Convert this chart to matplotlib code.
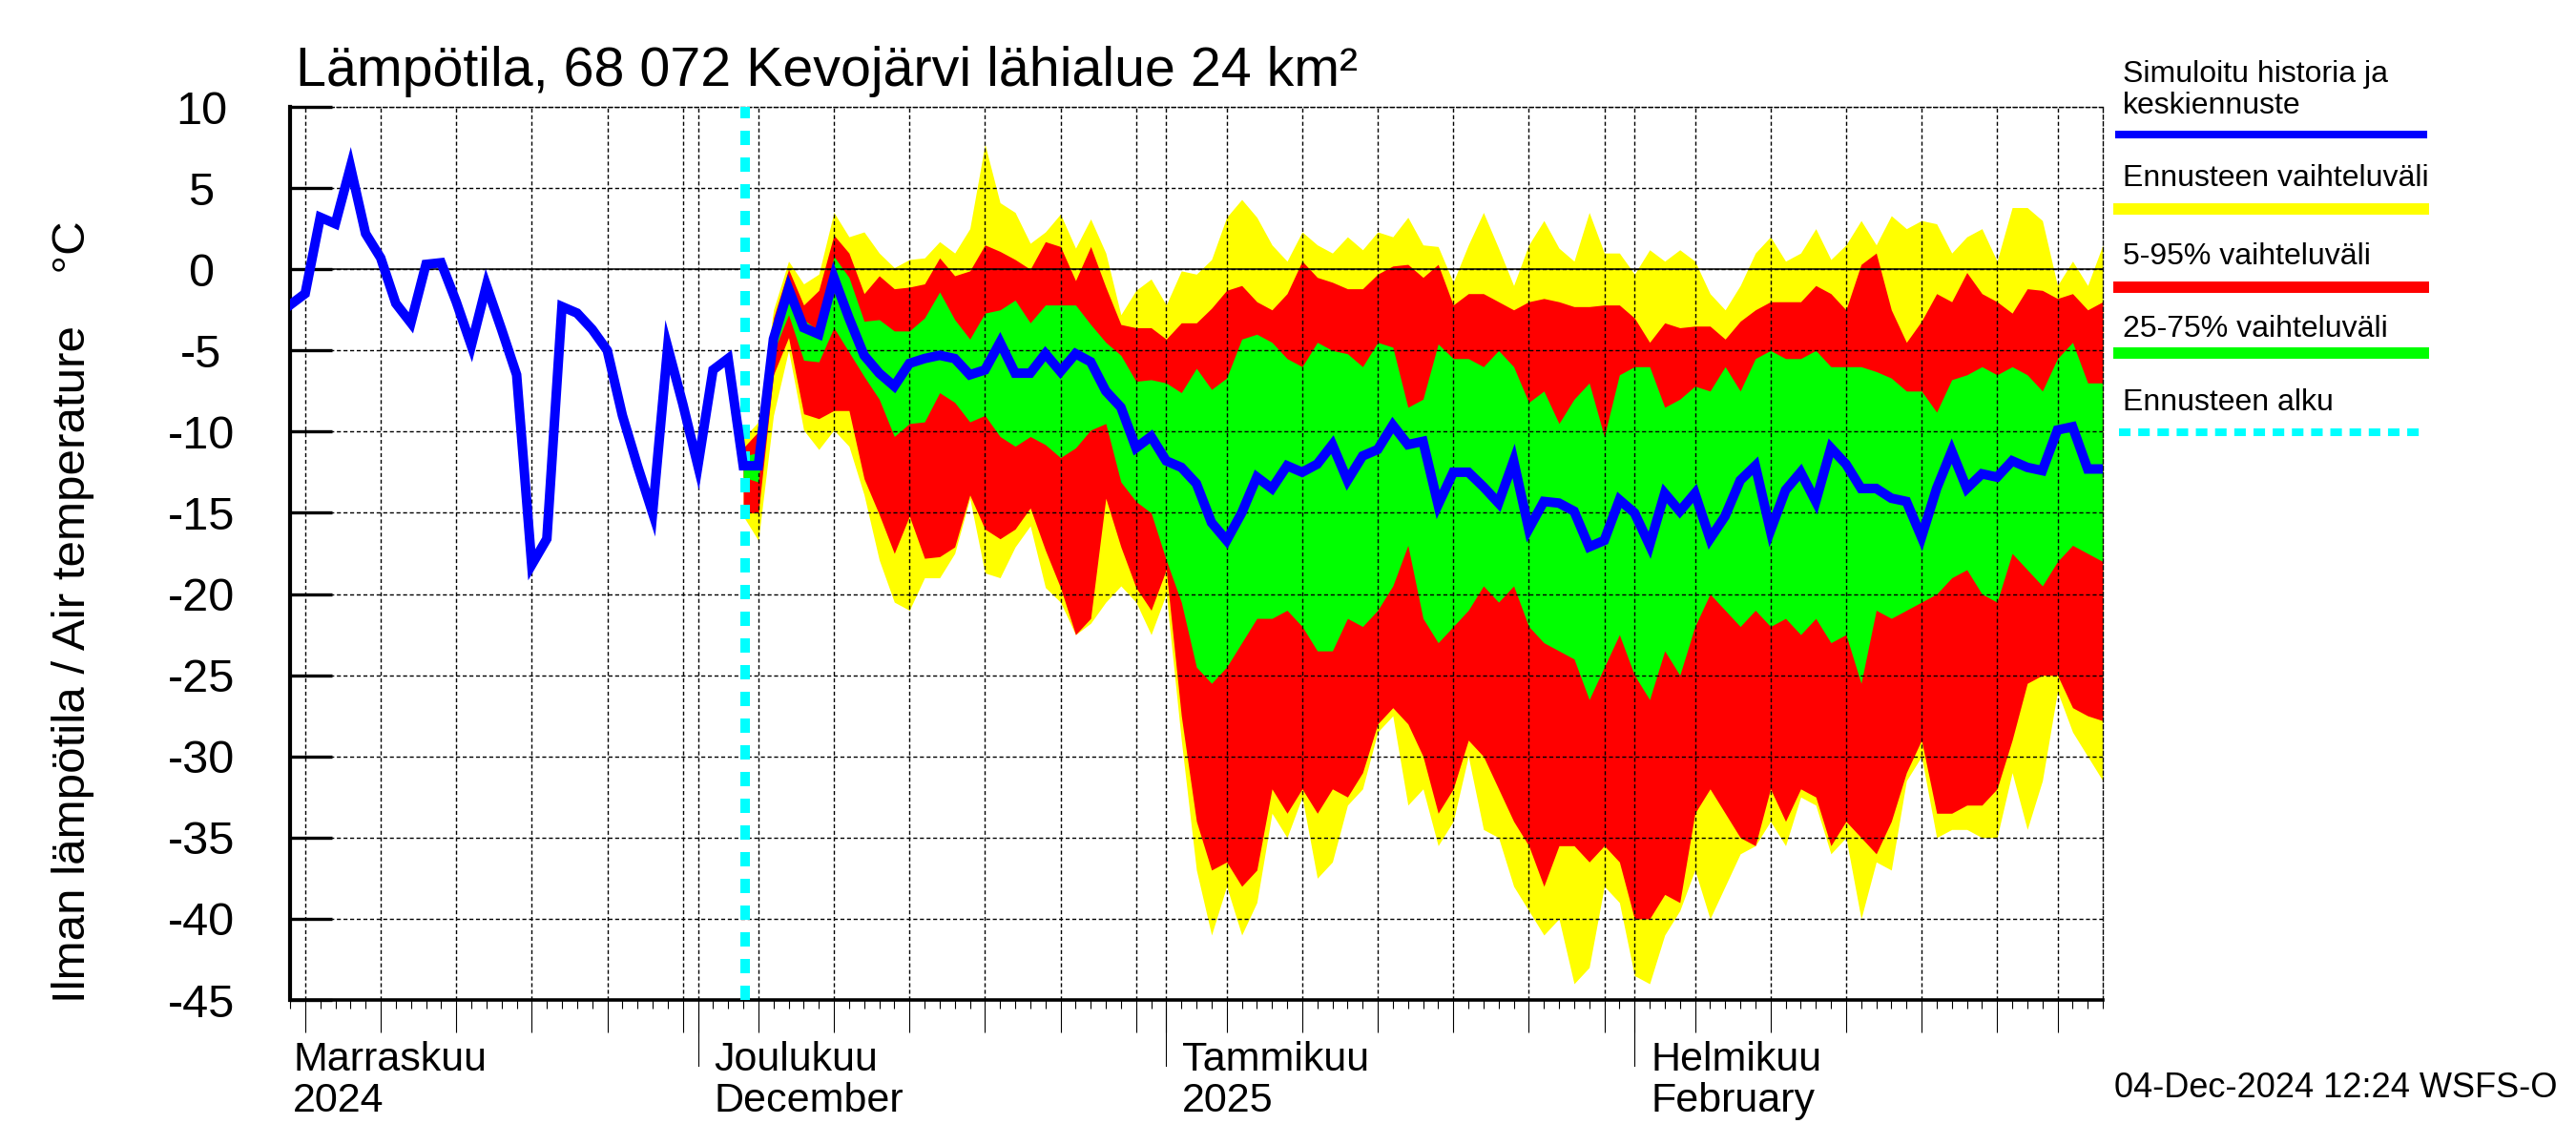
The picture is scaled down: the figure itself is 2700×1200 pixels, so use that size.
import numpy as np
import pandas as pd
import matplotlib
matplotlib.use('Agg')
import matplotlib.pyplot as plt
import matplotlib.dates as mdates
from matplotlib.lines import Line2D

plt.rcParams['font.family'] = ['Liberation Sans', 'DejaVu Sans']
plt.rcParams['axes.unicode_minus'] = False

# --- DATA ---
# simulated history, daily from 2024-11-04
hist_start = "2024-11-04"
hist = [-2.2, -1.5, 3.2, 2.8, 6.3, 2.2, 0.7, -2.1, -3.3, 0.3,
        0.4, -2.0, -4.7, -1.0, -3.7, -6.5, -18.2, -16.6, -2.3, -2.7,
        -3.7, -5.0, -9.0, -12.1, -15.0, -4.8, -8.3, -12.1, -6.2, -5.5]

# forecast, daily from 2024-12-04
fc_start = "2024-12-04"
fc_max = [-10.4, -9.4, -2.5, 0.5, -0.9, -0.3, 3.5, 2.0, 2.3, 1.0,
          0.1, 0.6, 0.7, 1.7, 1.0, 2.5, 7.7, 4.1, 3.5, 1.6,
          2.3, 3.4, 1.3, 3.1, 1.0, -2.8, -1.3, -0.6, -2.2, -0.1,
          -0.3, 0.6, 3.2, 4.3, 3.2, 1.5, 0.5, 2.3, 1.5, 1.0,
          2.0, 1.2, 2.3, 2.0, 3.2, 1.5, 1.4, -0.8, 1.5, 3.5,
          1.3, -1.0, 1.5, 3.0, 1.3, 0.5, 3.5, 1.0, 1.0, -0.3,
          1.2, 0.5, 1.2, 0.5, -1.5, -2.5, -1.0, 1.0, 2.0, 0.5,
          1.0, 2.5, 0.6, 1.5, 3.0, 1.5, 3.3, 2.5, 3.0, 2.8,
          1.0, 2.0, 2.5, 0.5, 3.8, 3.8, 3.0, -1.0, 0.5, -1.0, 1.5]
fc_p95 = [-11.0, -10.0, -3.0, 0.0, -2.2, -1.3, 2.1, 1.0, -1.5, -0.4,
          -1.2, -1.1, -0.9, 0.7, -0.4, -0.1, 1.5, 1.1, 0.6, 0.0,
          1.7, 1.4, -0.7, 1.4, -1.1, -3.4, -3.6, -3.6, -4.3, -3.3,
          -3.3, -2.4, -1.3, -1.0, -2.0, -2.5, -1.5, 0.5, -0.5, -0.8,
          -1.2, -1.2, -0.3, 0.2, 0.3, -0.5, 0.3, -2.2, -1.5, -1.5,
          -2.0, -2.5, -2.0, -1.8, -2.0, -2.3, -2.3, -2.2, -2.2, -3.0,
          -4.5, -3.3, -3.6, -3.5, -3.5, -4.3, -3.2, -2.5, -2.0, -2.0,
          -2.0, -1.0, -1.5, -2.5, 0.3, 1.0, -2.5, -4.5, -3.2, -1.5,
          -2.0, -0.2, -1.5, -2.0, -2.7, -1.2, -1.3, -1.8, -1.5, -2.5, -2.0]
fc_p75 = [-11.5, -11.3, -3.6, -0.5, -3.1, -3.8, 0.8, -0.5, -3.2, -3.1,
          -3.8, -3.8, -3.0, -1.4, -3.1, -4.3, -2.7, -2.5, -1.9, -3.3,
          -2.2, -2.2, -2.2, -3.4, -4.5, -5.3, -6.9, -6.8, -7.0, -7.6,
          -6.1, -7.4, -6.7, -4.3, -4.0, -4.5, -5.5, -6.0, -4.5, -5.0,
          -5.2, -6.0, -4.5, -4.8, -8.5, -8.0, -4.6, -5.5, -5.5, -6.0,
          -5.0, -6.0, -8.2, -7.5, -9.5, -8.0, -7.0, -10.3, -6.5, -6.0,
          -6.0, -8.5, -8.0, -7.2, -7.5, -6.0, -7.5, -5.5, -5.0, -5.5,
          -5.5, -5.0, -6.0, -6.0, -6.0, -6.3, -6.7, -7.5, -7.5, -8.8,
          -6.8, -6.5, -6.0, -6.5, -6.0, -6.5, -7.5, -5.5, -4.5, -7.0, -7.0]
fc_median = [-12.1, -12.1, -4.3, -1.2, -3.6, -4.0, -0.5, -3.0, -5.3, -6.4,
             -7.2, -5.8, -5.5, -5.3, -5.5, -6.5, -6.2, -4.5, -6.4, -6.4,
             -5.2, -6.3, -5.2, -5.7, -7.5, -8.5, -11.0, -10.3, -11.8, -12.2,
             -13.2, -15.6, -16.7, -15.0, -12.8, -13.5, -12.1, -12.5, -12.0, -10.8,
             -13.0, -11.5, -11.1, -9.6, -10.8, -10.6, -14.5, -12.5, -12.5, -13.4,
             -14.4, -11.8, -16.0, -14.3, -14.4, -14.9, -17.1, -16.7, -14.2, -15.0,
             -17.0, -13.8, -14.9, -13.8, -16.6, -15.2, -13.0, -12.1, -16.1, -13.6,
             -12.5, -14.3, -11.0, -12.0, -13.5, -13.5, -14.1, -14.3, -16.5, -13.5,
             -11.2, -13.5, -12.6, -12.8, -11.8, -12.2, -12.4, -9.9, -9.7, -12.3, -12.3]
fc_p25 = [-12.8, -13.1, -5.1, -2.8, -5.6, -5.7, -3.6, -5.1, -6.6, -8.0,
          -10.3, -9.5, -9.4, -7.6, -8.2, -9.4, -9.0, -10.3, -10.9, -10.3,
          -10.8, -11.6, -11.0, -9.9, -9.5, -13.1, -14.3, -15.0, -17.9, -20.5,
          -24.5, -25.5, -24.5, -23.0, -21.5, -21.5, -21.0, -22.0, -23.5, -23.5,
          -21.5, -22.0, -21.0, -19.5, -17.0, -21.5, -23.0, -22.0, -21.0, -19.5,
          -20.5, -19.5, -22.0, -23.0, -23.5, -24.0, -26.5, -24.5, -22.5, -25.0,
          -26.5, -23.5, -25.0, -22.0, -20.0, -21.0, -22.0, -21.0, -22.0, -21.5,
          -22.5, -21.5, -23.0, -22.5, -25.5, -21.0, -21.5, -21.0, -20.5, -20.0,
          -19.0, -18.5, -20.0, -20.5, -17.5, -18.5, -19.5, -18.0, -17.0, -17.5, -18.0]
fc_p05 = [-15.0, -15.0, -6.5, -4.2, -8.9, -9.2, -8.7, -8.7, -12.9, -15.1,
          -17.5, -15.2, -17.8, -17.7, -17.1, -13.9, -16.0, -16.6, -16.0, -14.7,
          -17.3, -19.6, -22.5, -21.5, -14.1, -17.1, -19.6, -21.0, -18.5, -27.5,
          -34.0, -37.0, -36.5, -38.0, -37.0, -32.0, -33.5, -32.0, -33.5, -32.0,
          -32.5, -31.0, -28.0, -27.0, -28.0, -30.0, -33.5, -32.0, -29.0, -30.0,
          -32.0, -34.0, -35.5, -38.0, -35.5, -35.5, -36.5, -35.5, -36.5, -40.0,
          -40.0, -38.5, -39.0, -33.5, -32.0, -33.5, -35.0, -35.5, -32.0, -34.0,
          -32.0, -32.5, -35.5, -34.0, -35.0, -36.0, -34.0, -31.0, -29.0, -33.5,
          -33.5, -33.0, -33.0, -32.0, -29.0, -25.5, -25.0, -25.0, -27.0, -27.5, -27.8]
fc_min = [-15.2, -16.7, -9.0, -5.0, -9.9, -11.1, -9.9, -10.9, -13.9, -17.9,
          -20.5, -21.0, -19.0, -19.0, -17.5, -14.1, -18.7, -19.0, -17.1, -15.8,
          -19.6, -20.5, -22.5, -21.8, -20.5, -19.5, -20.5, -22.5, -20.0, -29.0,
          -37.0, -41.0, -38.0, -41.0, -39.0, -33.5, -35.0, -32.5, -37.5, -36.5,
          -33.0, -32.0, -28.5, -27.5, -33.0, -32.0, -35.5, -34.0, -30.0, -34.5,
          -35.0, -38.0, -39.5, -41.0, -40.0, -44.0, -43.0, -38.0, -39.0, -43.5,
          -44.0, -41.0, -39.5, -37.0, -40.0, -38.0, -36.0, -35.5, -34.0, -35.5,
          -32.5, -33.0, -36.0, -35.0, -40.0, -36.5, -37.0, -31.5, -30.0, -35.0,
          -34.5, -34.5, -35.0, -35.0, -31.0, -34.5, -31.5, -26.0, -28.5, -30.0, -31.5]

month_labels = [("2024-11-04", "Marraskuu", "2024"),
                ("2024-12-01", "Joulukuu", "December"),
                ("2025-01-01", "Tammikuu", "2025"),
                ("2025-02-01", "Helmikuu", "February")]

legend_items = ["Simuloitu historia ja\nkeskiennuste", "Ennusteen vaihteluväli",
                "5-95% vaihteluväli", "25-75% vaihteluväli", "Ennusteen alku"]

TITLE = "Lämpötila, 68 072 Kevojärvi lähialue 24 km²"
YLABEL = "Ilman lämpötila / Air temperature    °C"
STAMP = "04-Dec-2024 12:24 WSFS-O"

# --- PREP ---
x_hist = mdates.date2num(pd.date_range(hist_start, periods=len(hist)))
x_fc = mdates.date2num(pd.date_range(fc_start, periods=len(fc_median)))
x_line = np.concatenate([x_hist, x_fc])
y_line = np.concatenate([hist, fc_median])

W, H = 2700, 1200
fig = plt.figure(figsize=(27, 12), dpi=100)
L, R, T, B = 304, 2204, 112, 1048
ax = fig.add_axes([L / W, 1 - B / H, (R - L) / W, (B - T) / H])

YELLOW, RED, GREEN, BLUE, CYAN = '#FFFF00', '#FF0000', '#00FF00', '#0000FF', '#00FFFF'

ax.fill_between(x_fc, fc_min, fc_max, color=YELLOW, lw=0, zorder=1)
ax.fill_between(x_fc, fc_p05, fc_p95, color=RED, lw=0, zorder=1.1)
ax.fill_between(x_fc, fc_p25, fc_p75, color=GREEN, lw=0, zorder=1.2)
ax.axhline(0, color='k', lw=1.1, zorder=2.6)
ax.axvline(x_fc[0] + 0.15, color=CYAN, lw=7.2, dashes=(1.5, 1.3), zorder=2.8)
ax.plot(x_line, y_line, color=BLUE, lw=7.2, solid_joinstyle='miter', zorder=3)

# axes
x0 = mdates.date2num(pd.Timestamp("2024-11-04"))
x1 = mdates.date2num(pd.Timestamp("2025-03-04"))
ax.set_xlim(x0, x1)
ax.set_ylim(-45, 10)
ax.set_yticks(np.arange(-45, 11, 5))
ax.tick_params(axis='y', direction='in', length=32, width=2.4, pad=67, labelsize=35)
for lab in ax.get_yticklabels():
    lab.set_horizontalalignment('center')

ax.xaxis.set_major_locator(mdates.DayLocator(bymonthday=[1, 5, 10, 15, 20, 25, 30]))
ax.xaxis.set_minor_locator(mdates.DayLocator())
ax.xaxis.set_major_formatter(plt.NullFormatter())
ax.tick_params(axis='x', which='major', direction='out', length=24.5, width=0.8)
ax.tick_params(axis='x', which='minor', direction='out', length=6.5, width=0.8)

ax.set_axisbelow(False)
ax.grid(True, which='major', color='k', lw=1.0, dashes=(3, 2))

ax.spines['left'].set_linewidth(3)
ax.spines['bottom'].set_linewidth(2.6)
for s in ['top', 'right']:
    ax.spines[s].set_linewidth(1.0)
    ax.spines[s].set_linestyle((0, (3, 2)))

# long month ticks and month labels
xt = ax.get_xaxis_transform()
for i, (d, l1, l2) in enumerate(month_labels):
    xd = mdates.date2num(pd.Timestamp(d))
    if i == 0:
        xl = xd + 0.2
    else:
        ax.plot([xd, xd], [0, -69 / (B - T)], transform=xt, color='k', lw=0.8, clip_on=False)
        xl = xd + 1.07
    ax.text(xl, -(1122 - B) / (B - T), l1, transform=xt, fontsize=31, va='baseline', ha='left')
    ax.text(xl, -(1165 - B) / (B - T), l2, transform=xt, fontsize=31, va='baseline', ha='left')

# titles
fig.text(310 / W, 1 - 90 / H, TITLE, fontsize=41.3, va='baseline', ha='left')
fig.text(77 / W, 1 - 641 / H, YLABEL, fontsize=35.5, rotation=90, va='center', ha='center')
fig.text(2680 / W, 1 - 1150 / H, STAMP, fontsize=26, va='baseline', ha='right')

# legend
lx0, lx1, ltx = 2221 / W, 2540 / W, 2225 / W
fig.text(ltx, 1 - 86 / H, "Simuloitu historia ja", fontsize=23, va='baseline')
fig.text(ltx, 1 - 119 / H, "keskiennuste", fontsize=23, va='baseline')
fig.add_artist(Line2D([lx0, lx1], [1 - 141 / H] * 2, color=BLUE, lw=5.8, transform=fig.transFigure))
fig.text(ltx, 1 - 195 / H, legend_items[1], fontsize=23, va='baseline')
fig.add_artist(Line2D([lx0, lx1], [1 - 219 / H] * 2, color=YELLOW, lw=8.6, transform=fig.transFigure))
fig.text(ltx, 1 - 277 / H, legend_items[2], fontsize=23, va='baseline')
fig.add_artist(Line2D([lx0, lx1], [1 - 301 / H] * 2, color=RED, lw=8.6, transform=fig.transFigure))
fig.text(ltx, 1 - 353 / H, legend_items[3], fontsize=23, va='baseline')
fig.add_artist(Line2D([lx0, lx1], [1 - 370 / H] * 2, color=GREEN, lw=8.6, transform=fig.transFigure))
fig.text(ltx, 1 - 430 / H, legend_items[4], fontsize=23, va='baseline')
fig.add_artist(Line2D([lx0, lx1], [1 - 453 / H] * 2, color=CYAN, lw=5.8, dashes=(1.5, 1.0),
                      transform=fig.transFigure))

fig.savefig("out.png", dpi=100)
